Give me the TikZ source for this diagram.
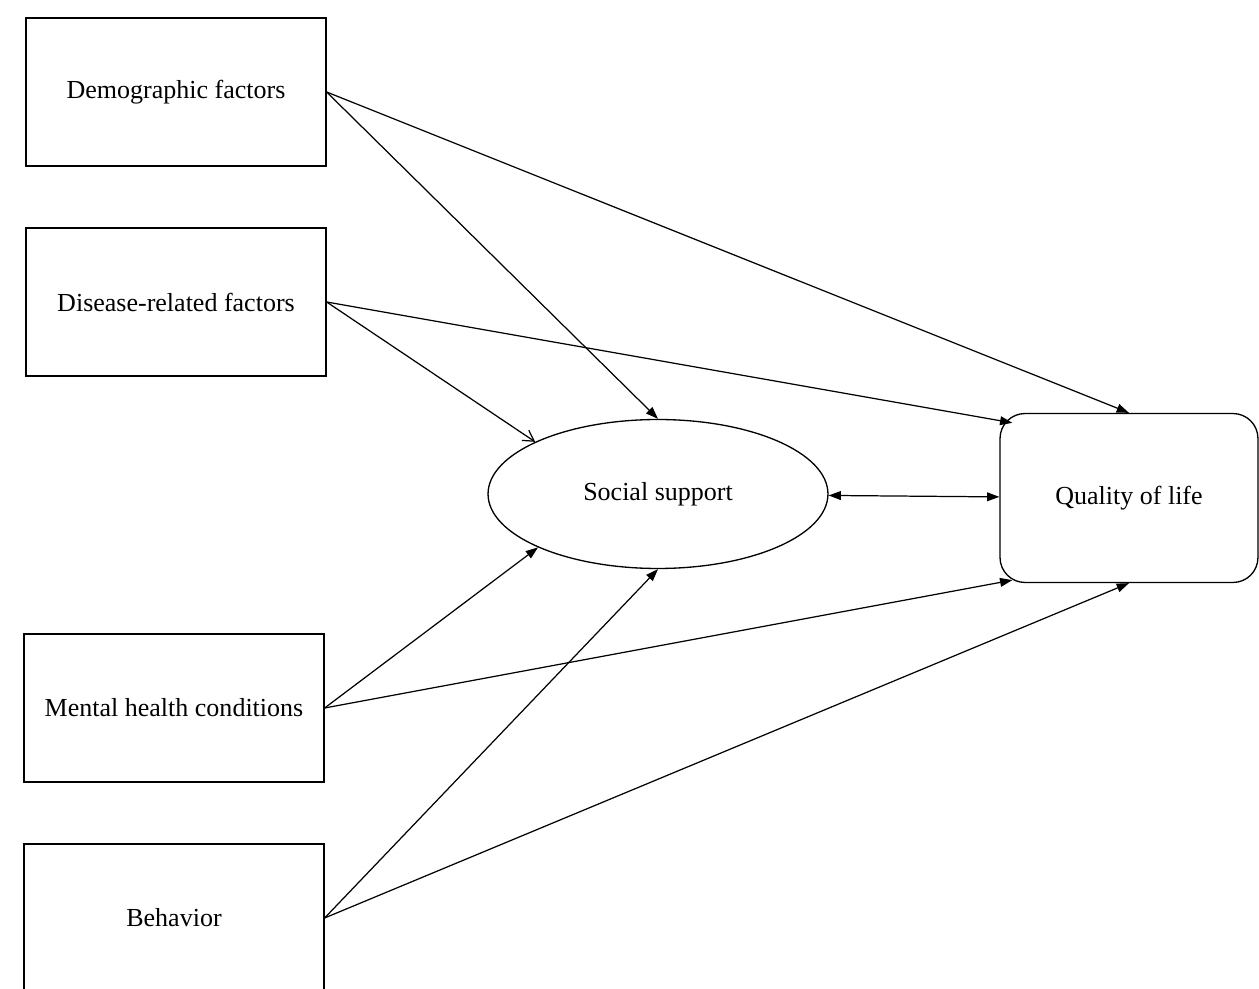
\documentclass[tikz,border=0pt]{standalone}
\usepackage{fontspec}
\setmainfont{Liberation Serif}
\usetikzlibrary{arrows.meta, shapes.geometric, calc}

\begin{document}
\begin{tikzpicture}[
    x=0.02cm, y=-0.02cm,
    font=\fontsize{14.8}{18}\selectfont,
    factor/.style={draw, line width=0.75pt, minimum width=6cm, minimum height=2.96cm, align=center},
    latent/.style={draw, ellipse, line width=0.75pt, inner sep=0pt, minimum width=6.8cm, minimum height=2.98cm},
    outcome/.style={draw, rounded corners=0.5cm, line width=0.75pt, minimum width=5.16cm, minimum height=3.38cm},
    arrow/.style={-{Triangle[length=7pt, width=5pt]}, line width=0.7pt},
    openarrow/.style={-{Straight Barb[length=6pt, width=7pt]}, line width=0.7pt},
    twoway/.style={{Triangle[length=7pt, width=5pt]}-{Triangle[length=7pt, width=5pt]}, line width=0.7pt}
]
    \useasboundingbox (0,0) rectangle (1259,989);
    \clip (0,0) rectangle (1259,989);

    \node[factor]  (demo)    at (176,92)  {Demographic factors};
    \node[factor]  (disease) at (176,302) {Disease-related factors};
    \node[factor]  (mental)  at (174,708) {Mental health conditions};
    \node[factor]  (behav)   at (174,918) {Behavior};
    \node[latent]  (social)  at (658,494) {Social support};
    \node[outcome] (qol)     at (1129,498) {Quality of life};

    \draw[arrow]     (demo.east) -- (social.north);
    \draw[arrow]     (demo.east) -- (qol.north);
    \draw[openarrow] (disease.east) -- (social.157);
    \draw[arrow]     (disease.east) -- ($(qol.north west)+(13,10)$);
    \draw[arrow]     (mental.east) -- (social.204);
    \draw[arrow]     (mental.east) -- ($(qol.south west)+(13,-3)$);
    \draw[arrow]     (behav.east) -- (social.south);
    \draw[arrow]     (behav.east) -- (qol.south);
    \draw[twoway]    (social) -- (qol);
\end{tikzpicture}
\end{document}
